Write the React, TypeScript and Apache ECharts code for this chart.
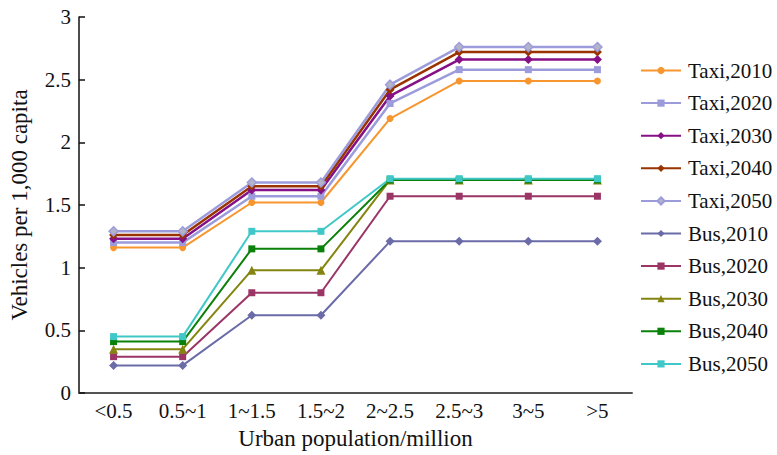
import React, { useEffect, useRef } from "react";
import * as echarts from "echarts";

const categories = ["<0.5", "0.5~1", "1~1.5", "1.5~2", "2~2.5", "2.5~3", "3~5", ">5"];

const taxi2010 = [1.16, 1.16, 1.52, 1.52, 2.19, 2.49, 2.49, 2.49];
const taxi2020 = [1.2, 1.2, 1.57, 1.57, 2.31, 2.58, 2.58, 2.58];
const taxi2030 = [1.23, 1.23, 1.62, 1.62, 2.37, 2.66, 2.66, 2.66];
const taxi2040 = [1.26, 1.26, 1.65, 1.65, 2.42, 2.72, 2.72, 2.72];
const taxi2050 = [1.29, 1.29, 1.68, 1.68, 2.46, 2.76, 2.76, 2.76];
const bus2010 = [0.22, 0.22, 0.62, 0.62, 1.21, 1.21, 1.21, 1.21];
const bus2020 = [0.29, 0.29, 0.8, 0.8, 1.57, 1.57, 1.57, 1.57];
const bus2030 = [0.35, 0.35, 0.98, 0.98, 1.7, 1.7, 1.7, 1.7];
const bus2040 = [0.41, 0.41, 1.15, 1.15, 1.7, 1.7, 1.7, 1.7];
const bus2050 = [0.45, 0.45, 1.29, 1.29, 1.71, 1.71, 1.71, 1.71];

const FONT = "'Liberation Serif', 'Times New Roman', serif";

type SeriesDef = {
  name: string;
  data: number[];
  color: string;
  symbol: string;
  symbolColor?: string;
  width: number;
  size: number;
};

const seriesDefs: SeriesDef[] = [
  { name: "Taxi,2010", data: taxi2010, color: "#F7962E", symbol: "circle", width: 2, size: 7 },
  { name: "Taxi,2020", data: taxi2020, color: "#9C9CDC", symbol: "rect", width: 2.5, size: 7 },
  { name: "Taxi,2030", data: taxi2030, color: "#861086", symbol: "diamond", width: 2.5, size: 9 },
  { name: "Taxi,2040", data: taxi2040, color: "#993300", symbol: "diamond", width: 2.5, size: 9 },
  { name: "Taxi,2050", data: taxi2050, color: "#9C9CDC", symbol: "diamond", symbolColor: "#B4B4C8", width: 2.5, size: 9 },
  { name: "Bus,2010", data: bus2010, color: "#6B6BA8", symbol: "diamond", width: 2, size: 9 },
  { name: "Bus,2020", data: bus2020, color: "#9B3566", symbol: "rect", width: 2, size: 7 },
  { name: "Bus,2030", data: bus2030, color: "#848410", symbol: "triangle", width: 2, size: 9 },
  { name: "Bus,2040", data: bus2040, color: "#0A820A", symbol: "rect", width: 2, size: 7 },
  { name: "Bus,2050", data: bus2050, color: "#40C8C8", symbol: "rect", width: 2, size: 7 },
];

export default function App() {
  const ref = useRef<HTMLDivElement>(null);

  useEffect(() => {
    if (!ref.current) return;
    const chart = echarts.init(ref.current, null, { renderer: "svg" });
    chart.setOption({
      animation: false,
      backgroundColor: "#ffffff",
      textStyle: { fontFamily: FONT },
      grid: { left: 74.5, right: 145, top: 17, bottom: 57, containLabel: false },
      legend: {
        orient: "vertical",
        left: 640,
        top: 60,
        padding: 0,
        itemWidth: 40,
        itemHeight: 9,
        itemGap: 11.6,
        textStyle: {
          fontFamily: FONT,
          fontSize: 21,
          color: "#111",
          padding: [0, 0, 0, 2],
          lineHeight: 21,
        },
        data: seriesDefs.map((s) => s.name),
      },
      xAxis: {
        type: "category",
        data: categories,
        boundaryGap: true,
        name: "Urban population/million",
        nameLocation: "middle",
        nameGap: 34,
        nameTextStyle: { fontFamily: FONT, fontSize: 23, color: "#111" },
        axisLine: { lineStyle: { color: "#555", width: 2 } },
        axisTick: { show: false },
        axisLabel: { fontFamily: FONT, fontSize: 21, color: "#111", margin: 7 },
        splitLine: { show: false },
      },
      yAxis: {
        type: "value",
        min: 0,
        max: 3,
        interval: 0.5,
        name: "Vehicles per 1,000 capita",
        nameLocation: "middle",
        nameGap: 48,
        nameTextStyle: { fontFamily: FONT, fontSize: 23, color: "#111" },
        axisLine: { show: true, lineStyle: { color: "#111", width: 1.5 } },
        axisTick: { show: true, inside: true, length: 6, lineStyle: { color: "#111", width: 1.5 } },
        axisLabel: { fontFamily: FONT, fontSize: 21, color: "#111", margin: 8 },
        splitLine: { show: false },
      },
      series: seriesDefs.map((s) => ({
        name: s.name,
        type: "line",
        data: s.data,
        symbol: s.symbol,
        symbolSize: s.size,
        lineStyle: { color: s.color, width: s.width },
        itemStyle: {
          color: s.symbolColor ?? s.color,
          borderColor: s.color,
          borderWidth: s.symbolColor ? 1.5 : 0,
        },
        emphasis: { disabled: true },
      })),
    });
    return () => chart.dispose();
  }, []);

  return (
    <div
      ref={ref}
      style={{ position: "fixed", left: 0, top: 0, width: 777, height: 455 }}
    />
  );
}
